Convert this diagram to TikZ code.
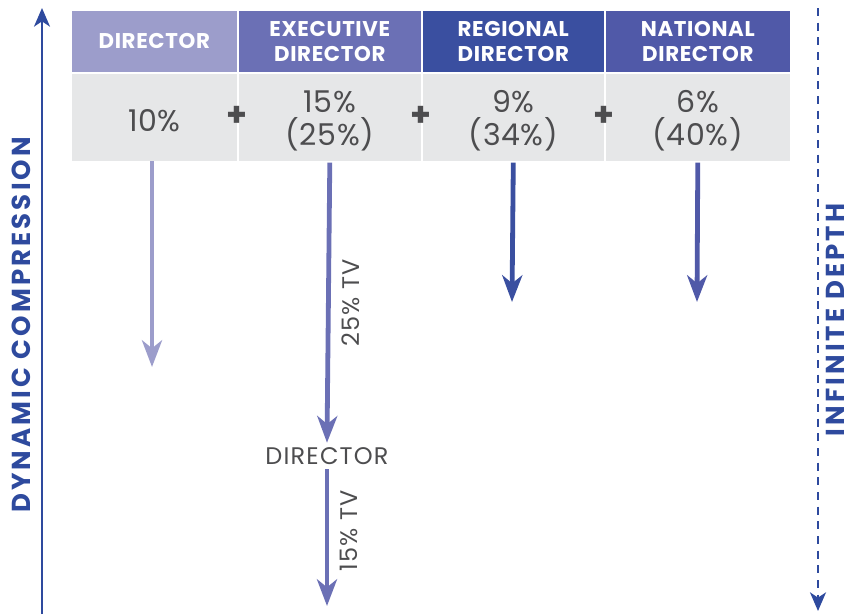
\documentclass[tikz,border=0pt]{standalone}
\usepackage{fontspec}
\setmainfont{Poppins}
\usetikzlibrary{arrows.meta}
\definecolor{cDir}{HTML}{9C9DCB}
\definecolor{cExe}{HTML}{6B70B5}
\definecolor{cReg}{HTML}{3A4FA0}
\definecolor{cNat}{HTML}{5059A8}
\definecolor{cBody}{HTML}{E6E7E8}
\definecolor{cTxt}{HTML}{4D4D4F}
\definecolor{cAxis}{HTML}{2E4A9E}
\tikzset{
  head/.style={draw=white, line width=1.2pt, text=white, font=\fontsize{16}{19}\selectfont\bfseries\addfontfeatures{LetterSpace=3}, align=center, inner sep=0pt},
  cell/.style={draw=white, line width=1.2pt, fill=cBody, inner sep=0pt},
  body/.style={text=cTxt, font=\fontsize{22.5}{25}\selectfont\addfontfeatures{LetterSpace=2}, align=center, inner sep=0pt, yshift=-2.6pt},
  plus/.style={text=cTxt, font=\fontsize{25}{25}\selectfont\bfseries},
  darrow/.style={line width=3.6pt, -{Stealth[length=20pt, width=15pt, inset=6pt]}},
  lbl/.style={text=cTxt, font=\fontsize{18}{20}\selectfont\addfontfeatures{LetterSpace=5}},
  axislbl/.style={text=cAxis, font=\fontsize{19.5}{21}\selectfont\bfseries\addfontfeatures{LetterSpace=12}, rotate=90},
  axis/.style={draw=cAxis, line width=1.7pt, -{Stealth[length=14pt, width=12pt, inset=4pt]}}
}
\begin{document}
\begin{tikzpicture}[x=0.75pt, y=-0.75pt]
\useasboundingbox (0,0) rectangle (853,614);
% header cells
\node[head, fill=cDir, minimum width=167*0.75pt, minimum height=63*0.75pt, anchor=north west] (h1) at (70,9) {DIRECTOR};
\node[head, fill=cExe, minimum width=184*0.75pt, minimum height=63*0.75pt, anchor=north west] (h2) at (237,9) {EXECUTIVE\\DIRECTOR};
\node[head, fill=cReg, minimum width=183*0.75pt, minimum height=63*0.75pt, anchor=north west] (h3) at (421,9) {REGIONAL\\DIRECTOR};
\node[head, fill=cNat, minimum width=186*0.75pt, minimum height=63*0.75pt, anchor=north west] (h4) at (604,9) {NATIONAL\\DIRECTOR};
% body cells
\node[cell, minimum width=167*0.75pt, minimum height=89*0.75pt, anchor=north west] (b1) at (70,72) {};
\node[cell, minimum width=184*0.75pt, minimum height=89*0.75pt, anchor=north west] (b2) at (237,72) {};
\node[cell, minimum width=183*0.75pt, minimum height=89*0.75pt, anchor=north west] (b3) at (421,72) {};
\node[cell, minimum width=186*0.75pt, minimum height=89*0.75pt, anchor=north west] (b4) at (604,72) {};
\node[body] (t1) at (b1.center) {10\%};
\node[body] (t2) at (b2.center) {15\%\\(25\%)};
\node[body] (t3) at (b3.center) {9\%\\(34\%)};
\node[body] (t4) at (b4.center) {6\%\\(40\%)};
% plus signs
\node[plus] (p1) at (237,116) {+};
\node[plus] (p2) at (421,116) {+};
\node[plus] (p3) at (604,116) {+};
% arrow end points
\coordinate (e1) at (152,367);
\coordinate (e3) at (512,302);
\coordinate (e4) at (697,302);
\coordinate (e5) at (327,606);
\node[lbl] (dir2) at (327,456) {DIRECTOR};
\draw[darrow, draw=cDir] (152,161) -- (e1);
\draw[darrow, draw=cExe] (b2.south) -- (dir2.north) node[pos=0.5, lbl, rotate=90, anchor=north, yshift=-5pt] (tv1) {25\% TV};
\draw[darrow, draw=cExe] (dir2.south) -- (e5) node[pos=0.45, lbl, rotate=90, anchor=north, yshift=-5pt] (tv2) {15\% TV};
\draw[darrow, draw=cReg] (b3.south) -- (e3);
\draw[darrow, draw=cNat] (b4.south) -- (e4);
% axes
\coordinate (l0) at (42,614);
\coordinate (l1) at (42,8);
\draw[axis] (l0) -- (l1);
\node[axislbl] (ll) at (21,325) {DYNAMIC COMPRESSION};
\coordinate (r0) at (818,8);
\coordinate (r1) at (818,611);
\draw[axis, dash pattern=on 6pt off 5pt] (r0) -- (r1);
\node[axislbl] (rl) at (835,320) {INFINITE DEPTH};
\end{tikzpicture}
\end{document}
